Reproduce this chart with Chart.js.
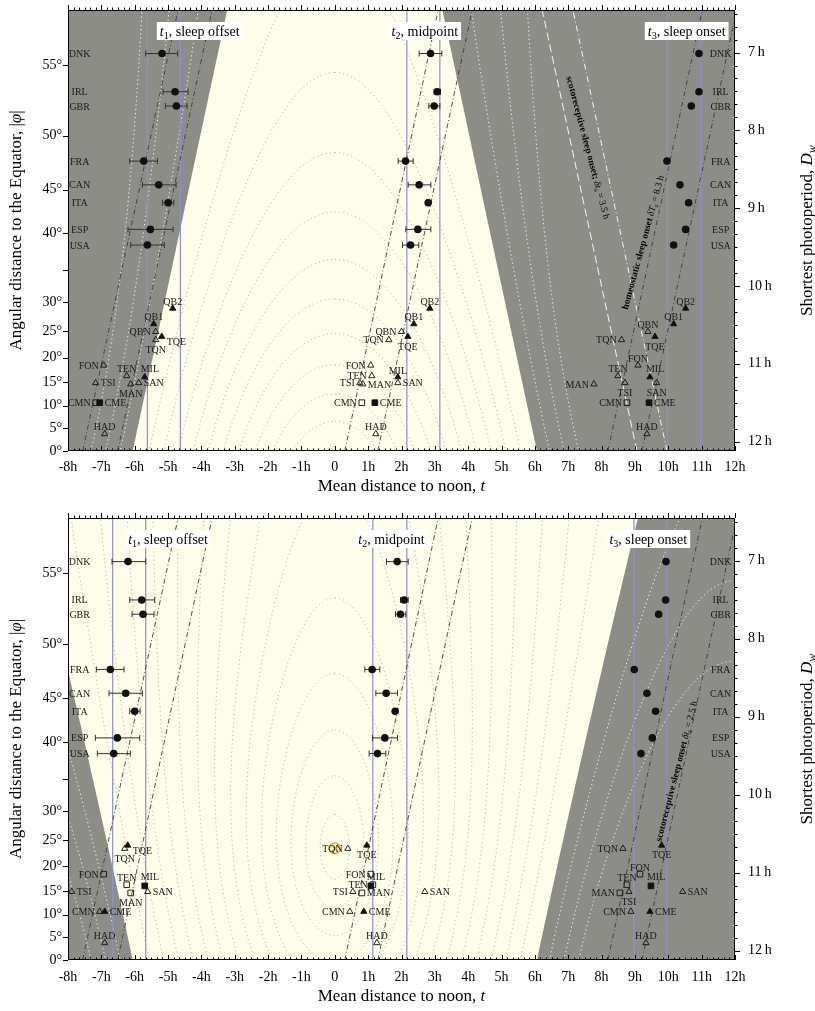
<!DOCTYPE html>
<html>
<head>
<meta charset="utf-8">
<script src="https://cdn.jsdelivr.net/npm/chart.js@4.4.1/dist/chart.umd.min.js"></script>
<style>
  html, body { margin: 0; padding: 0; background: #fff; overflow: hidden; }
  .panel { position: absolute; left: 0; width: 815px; }
  #top { top: 0; height: 506px; }
  #bottom { top: 505px; height: 506px; }
</style>
</head>
<body>
<div class="panel" id="top"><canvas id="winter" width="815" height="506"></canvas></div>
<div class="panel" id="bottom"><canvas id="summer" width="815" height="506"></canvas></div>
<script>
// Sleep timing against solar time: winter time (top) and summer time (bottom)

const DECL = 23.44;     // solstice declination, deg
const H0 = -0.833;      // sun altitude at sunrise / sunset, deg
const LAT_MAX = 58;     // top of the plot, deg
const RAD = Math.PI / 180;

const X_TICKS = [-8, -7, -6, -5, -4, -3, -2, -1, 0, 1, 2, 3, 4, 5, 6, 7, 8, 9, 10, 11, 12];
const DEG_TICKS = [0, 5, 10, 15, 20, 25, 30, 35, 40, 45, 50, 55];
const DEG_LABELS = [0, 5, 10, 15, 20, 25, 30, 40, 45, 50, 55];
const HOUR_TICKS = [7, 8, 9, 10, 11, 12];
const ALT_LEVELS = [6, 12, 18, 24, 30, 36, 42, 48, 54, 60, 66, 72, 78, 84];
const TWILIGHT_LEVELS = [-6, -12, -18];

// countries (circles)
const COUNTRIES = ['DNK', 'IRL', 'GBR', 'FRA', 'CAN', 'ITA', 'ESP', 'USA'];
const COUNTRY_LAT = [55.7, 53.3, 52.3, 47.8, 45.5, 43.6, 40.5, 38.5];

const W_T1    = [-5.18, -4.79, -4.75, -5.73, -5.28, -5.00, -5.53, -5.62];
const W_T1_LO = [-5.67, -5.15, -5.08, -6.15, -5.77, -5.17, -6.20, -6.12];
const W_T1_HI = [-4.71, -4.40, -4.43, -5.32, -4.76, -4.83, -4.85, -5.11];
const W_T2    = [2.87, 3.07, 2.98, 2.12, 2.53, 2.80, 2.49, 2.27];
const W_T2_LO = [2.53, 2.98, 2.82, 1.90, 2.20, 2.75, 2.13, 2.03];
const W_T2_HI = [3.21, 3.17, 3.15, 2.35, 2.88, 2.85, 2.88, 2.52];
const W_T3    = [10.92, 10.92, 10.69, 9.96, 10.35, 10.61, 10.52, 10.16];

const S_T1    = [-6.20, -5.79, -5.75, -6.73, -6.27, -6.00, -6.52, -6.63];
const S_T1_LO = [-6.68, -6.15, -6.08, -7.15, -6.77, -6.15, -7.18, -7.12];
const S_T1_HI = [-5.67, -5.40, -5.42, -6.32, -5.77, -5.84, -5.85, -6.13];
const S_T2    = [1.87, 2.08, 1.97, 1.12, 1.54, 1.81, 1.50, 1.28];
const S_T2_LO = [1.55, 1.97, 1.82, 0.90, 1.23, 1.76, 1.13, 1.03];
const S_T2_HI = [2.20, 2.20, 2.13, 1.35, 1.88, 1.86, 1.88, 1.53];
const S_T3    = [9.93, 9.92, 9.71, 8.98, 9.36, 9.62, 9.52, 9.18];

// regions (triangles / squares)
const REGIONS = ['QB2', 'QB1', 'QBN', 'TQE', 'TQN', 'FON', 'TEN', 'MIL', 'TSI', 'MAN', 'SAN', 'CMN', 'CME', 'HAD'];
const REGION_LAT = [29.0, 26.3, 24.9, 24.0, 23.4, 18.45, 16.3, 16.06, 14.86, 14.6, 14.86, 10.65, 10.65, 3.8];

const W_R1 = [-4.86, -5.43, -5.37, -5.19, -5.37, -6.93, -6.24, -5.70, -7.17, -6.12, -5.88, -7.17, -7.05, -6.90];
const W_R2 = [2.85, 2.37, 2.00, 2.19, 1.62, 1.08, 1.11, 1.89, 0.75, 0.84, 1.89, 0.81, 1.20, 1.23];
const W_R3 = [10.52, 10.16, 9.39, 9.60, 8.60, 9.09, 8.49, 9.45, 8.70, 7.77, 9.65, 8.76, 9.42, 9.36];

const S_R1 = [null, null, null, -6.21, -6.30, -6.93, -6.24, -5.70, -7.89, -6.12, -5.61, -7.05, -6.90, -6.90];
const S_R2 = [null, null, null, 0.96, 0.39, 1.08, 1.14, 1.08, 0.54, 0.81, 2.70, 0.45, 0.87, 1.26];
const S_R3 = [null, null, null, 9.80, 8.64, 9.15, 8.76, 9.48, 8.82, 8.55, 10.43, 8.88, 9.45, 9.33];

// vertical reference lines (t)
const W_VLINES = [-5.62, -4.63, 2.16, 3.15, 9.97, 10.97];
const S_VLINES = [-6.66, -5.67, 1.14, 2.16, 8.97, 9.96];

// dash-dot fit lines: t at 0 deg and t at the top edge
const FIT_T0   = [-7.56, -6.51, 0.30, 1.29, 8.19, 9.21];
const FIT_TTOP = [-4.70, -3.68, 3.10, 4.12, 11.02, 12.05];
// scotoreceptive lines (winter panel only)
const SCOTO_T0   = [9.06, 9.96];
const SCOTO_TTOP = [6.22, 7.14];

const SUBSOLAR = { t: 0, lat: DECL };

// ---- layout / styles (not data) ----
const SERIF = '"Liberation Serif", "DejaVu Serif", serif';
const NIGHT = '#8d8d88';
const DAY = '#fdfde9';
const VLINE = '#8e8ed2';
const INK = '#111';

const W_SHAPE  = ['triangle', 'triangle', 'triangle', 'triangle', 'triangle', 'triangle', 'triangle', 'triangle', 'triangle', 'triangle', 'triangle', 'rect', 'rect', 'triangle'];
const S_SHAPE  = ['triangle', 'triangle', 'triangle', 'triangle', 'triangle', 'rect', 'rect', 'rect', 'triangle', 'rect', 'triangle', 'triangle', 'triangle', 'triangle'];
const FILLED   = [1, 1, 0, 1, 0, 0, 0, 1, 0, 0, 0, 0, 1, 0];

const W_LBL = [
  ['a', 'a', 'l', 'br', 'b', 'l', 'a', 'ar', 'r', 'b', 'r', 'l', 'r', 'a'],
  ['a', 'a', 'l', 'b', 'l', 'l', 'l', 'a', 'l', 'r', 'r', 'l', 'r', 'a'],
  ['a', 'a', 'a', 'b', 'l', 'a', 'a', 'ar', 'b', 'l', 'b', 'l', 'r', 'a'],
];
const S_LBL = [
  ['a', 'a', 'l', 'br', 'b', 'l', 'a', 'ar', 'r', 'b', 'r', 'l', 'r', 'a'],
  ['a', 'a', 'l', 'b', 'l', 'l', 'l', 'ar', 'l', 'r', 'r', 'l', 'r', 'a'],
  ['a', 'a', 'a', 'b', 'l', 'a', 'a', 'ar', 'b', 'l', 'r', 'l', 'r', 'a'],
];
const LABEL_OFFSETS = {
  a:  [0, -3.5, 'center'],
  b:  [0, 13, 'center'],
  l:  [-5, 3.5, 'right'],
  r:  [5, 3.5, 'left'],
  ar: [-4, -5.5, 'left'],
  br: [5, 8.5, 'left'],
};
const COUNTRY_LABEL_T = [-7.65, 11.57];

function halfDay(lat, decl) {
  const c = (Math.sin(H0 * RAD) - Math.sin(lat * RAD) * Math.sin(decl * RAD)) /
            (Math.cos(lat * RAD) * Math.cos(decl * RAD));
  return Math.acos(Math.max(-1, Math.min(1, c))) / RAD / 15;
}
// the vertical axis is linear in the shortest photoperiod
function shortestDay(lat) { return 2 * halfDay(lat, -DECL); }

const Y_MIN = shortestDay(LAT_MAX);
const Y_MAX = shortestDay(0);

const PANELS = {
  winter: {
    decl: -DECL, padTop: 10, xAxisH: 55, xLabelPad: 8, xTitleY: 485,
    groups: [[W_T1, W_T1_LO, W_T1_HI], [W_T2, W_T2_LO, W_T2_HI], [W_T3, null, null]],
    regions: [W_R1, W_R2, W_R3], shape: W_SHAPE, lbl: W_LBL,
    vlines: W_VLINES, scoto: true, sun: false,
    boxes: [[-4.05, '1', ', sleep offset'], [2.7, '2', ', midpoint'], [10.55, '3', ', sleep onset']],
    notes: [
      { t: 7.59, d: 8.22, angle: 75.2, runs: [{ s: 'scotoreceptive sleep onset; ', f: 'bold' }, { s: 'δt', f: 'italic' }, { s: 's', f: 'italic', sub: true }, { s: ' = 3.5 h' }] },
      { t: 9.24, d: 9.44, angle: -74.8, runs: [{ s: 'homeostatic sleep onset ', f: 'bold' }, { s: 'δT', f: 'italic' }, { s: 's', f: 'italic', sub: true }, { s: ' = 8.3 h' }] },
    ],
  },
  summer: {
    decl: DECL, padTop: 13, xAxisH: 51, xLabelPad: 9, xTitleY: 490,
    groups: [[S_T1, S_T1_LO, S_T1_HI], [S_T2, S_T2_LO, S_T2_HI], [S_T3, null, null]],
    regions: [S_R1, S_R2, S_R3], shape: S_SHAPE, lbl: S_LBL,
    vlines: S_VLINES, scoto: false, sun: true,
    boxes: [[-5.0, '1', ', sleep offset'], [1.7, '2', ', midpoint'], [9.4, '3', ', sleep onset']],
    notes: [
      { t: 10.24, d: 9.70, angle: -75.6, runs: [{ s: 'scotoreceptive sleep onset ', f: 'bold' }, { s: 'δt', f: 'italic' }, { s: 's', f: 'italic', sub: true }, { s: ' = 2.5 h' }] },
    ],
  },
};

function runFont(r, size) {
  return `${r.f || ''} ${r.sub ? size * 0.72 : size}px ${SERIF}`.trim();
}
function runsWidth(ctx, runs, size) {
  let w = 0;
  for (const r of runs) { ctx.font = runFont(r, size); w += ctx.measureText(r.s).width; }
  return w;
}
function drawRuns(ctx, runs, x, y, size) {
  for (const r of runs) {
    ctx.font = runFont(r, size);
    ctx.fillText(r.s, x, r.sub ? y + size * 0.22 : y);
    x += ctx.measureText(r.s).width;
  }
}

function contour(ctx, xs, ys, decl, alt) {
  const d = decl * RAD, psi = (90 - alt) * RAD;
  ctx.beginPath();
  let prev = null;
  for (let k = 0; k <= 1440; k++) {
    const th = (k / 4) * RAD;
    const sphi = Math.sin(d) * Math.cos(psi) + Math.cos(d) * Math.sin(psi) * Math.cos(th);
    const H = Math.atan2(Math.sin(th) * Math.sin(psi) * Math.cos(d), Math.cos(psi) - Math.sin(d) * sphi);
    const t = H / RAD / 15;
    const px = xs.getPixelForValue(t);
    const py = ys.getPixelForValue(shortestDay(Math.asin(sphi) / RAD));
    if (prev === null || Math.abs(t - prev) > 6) ctx.moveTo(px, py); else ctx.lineTo(px, py);
    prev = t;
  }
  ctx.stroke();
}

const solarBackground = {
  id: 'solarBackground',
  beforeDatasetsDraw(chart) {
    const { ctx, chartArea: a, scales: { x, y } } = chart;
    const p = chart.options.plugins.panel;
    ctx.save();
    ctx.beginPath();
    ctx.rect(a.left, a.top, a.width, a.height);
    ctx.clip();
    ctx.fillStyle = DAY;
    ctx.fillRect(a.left, a.top, a.width, a.height);

    // night on both sides of the day
    ctx.fillStyle = NIGHT;
    for (const side of [-1, 1]) {
      ctx.beginPath();
      ctx.moveTo(x.getPixelForValue(side * 14), y.getPixelForValue(shortestDay(-3)));
      for (let lat = -3; lat <= LAT_MAX + 3; lat += 0.5) {
        ctx.lineTo(x.getPixelForValue(side * halfDay(lat, p.decl)), y.getPixelForValue(shortestDay(lat)));
      }
      ctx.lineTo(x.getPixelForValue(side * 14), y.getPixelForValue(shortestDay(LAT_MAX + 3)));
      ctx.closePath();
      ctx.fill();
    }

    ctx.lineWidth = 1;
    ctx.setLineDash([1.2, 3]);
    ctx.strokeStyle = 'rgba(160,160,150,0.75)';
    ALT_LEVELS.forEach(h => contour(ctx, x, y, p.decl, h));
    ctx.strokeStyle = 'rgba(255,255,255,0.95)';
    TWILIGHT_LEVELS.forEach(h => contour(ctx, x, y, p.decl, h));
    ctx.restore();
  },
  beforeDatasetDraw(chart, args) {
    const ds = chart.data.datasets[args.index];
    if (!ds.errLo) return;
    const { ctx, scales: { x } } = chart;
    ctx.save();
    ctx.strokeStyle = '#333';
    ctx.lineWidth = 1;
    args.meta.data.forEach((el, j) => {
      const x0 = x.getPixelForValue(ds.errLo[j]);
      const x1 = x.getPixelForValue(ds.errHi[j]);
      ctx.beginPath();
      ctx.moveTo(x0, el.y); ctx.lineTo(x1, el.y);
      ctx.moveTo(x0, el.y - 3); ctx.lineTo(x0, el.y + 3);
      ctx.moveTo(x1, el.y - 3); ctx.lineTo(x1, el.y + 3);
      ctx.stroke();
    });
    ctx.restore();
  },
};

const annotations = {
  id: 'annotations',
  afterDatasetsDraw(chart) {
    const { ctx, scales: { x, y } } = chart;
    const p = chart.options.plugins.panel;
    ctx.save();
    ctx.fillStyle = '#1a1a1a';
    ctx.font = `10px ${SERIF}`;
    ctx.textBaseline = 'alphabetic';

    // region labels
    chart.data.datasets.forEach((ds, i) => {
      if (!ds.names) return;
      chart.getDatasetMeta(i).data.forEach((el, j) => {
        const [dx, dy, align] = LABEL_OFFSETS[ds.labelPos[j]];
        ctx.textAlign = align;
        ctx.fillText(ds.names[j], el.x + dx, el.y + dy);
      });
    });

    // country labels along both edges
    ctx.textAlign = 'center';
    COUNTRIES.forEach((c, i) => {
      const py = y.getPixelForValue(shortestDay(COUNTRY_LAT[i])) + 3.5;
      COUNTRY_LABEL_T.forEach(t => ctx.fillText(c, x.getPixelForValue(t), py));
    });

    // rotated notes along the sleep-onset lines
    ctx.fillStyle = '#000';
    ctx.textAlign = 'left';
    p.notes.forEach(n => {
      const w = runsWidth(ctx, n.runs, 9.5);
      ctx.save();
      ctx.translate(x.getPixelForValue(n.t), y.getPixelForValue(n.d));
      ctx.rotate(n.angle * RAD);
      drawRuns(ctx, n.runs, -w / 2, 3, 9.5);
      ctx.restore();
    });
    ctx.restore();
  },
  afterDraw(chart) {
    const { ctx, chartArea: a, scales: { x, y } } = chart;
    const p = chart.options.plugins.panel;
    ctx.save();
    ctx.strokeStyle = '#000';
    ctx.lineWidth = 1;
    ctx.strokeRect(a.left + 0.5, a.top + 0.5, a.width - 1, a.height - 1);

    ctx.beginPath();
    for (let m = -48; m <= 72; m++) {
      const px = Math.round(x.getPixelForValue(m / 6)) + 0.5;
      const len = m % 6 === 0 ? 5 : 2.5;
      ctx.moveTo(px, a.top); ctx.lineTo(px, a.top - len);
      ctx.moveTo(px, a.bottom); ctx.lineTo(px, a.bottom - len);
    }
    DEG_TICKS.forEach(dg => {
      const py = Math.round(y.getPixelForValue(shortestDay(dg))) + 0.5;
      ctx.moveTo(a.left, py); ctx.lineTo(a.left - 5, py);
    });
    for (let m = Math.ceil(Y_MIN * 6); m <= Math.floor(Y_MAX * 6); m++) {
      const py = Math.round(y.getPixelForValue(m / 6)) + 0.5;
      ctx.moveTo(a.right, py); ctx.lineTo(a.right + (m % 6 === 0 ? 5 : 2.5), py);
    }
    ctx.stroke();

    // t_i boxes
    ctx.textAlign = 'left';
    ctx.textBaseline = 'alphabetic';
    p.boxes.forEach(([t, sub, rest]) => {
      const runs = [{ s: 't', f: 'italic' }, { s: sub, sub: true }, { s: rest }];
      const w = runsWidth(ctx, runs, 14);
      const cx = x.getPixelForValue(t), cy = a.top + 21;
      ctx.fillStyle = '#fff';
      ctx.fillRect(cx - w / 2 - 3, cy - 9, w + 6, 18);
      ctx.fillStyle = '#000';
      drawRuns(ctx, runs, cx - w / 2, cy + 5, 14);
    });

    // axis titles
    const cy = (a.top + a.bottom) / 2;
    const left = [{ s: 'Angular distance to the Equator, |' }, { s: 'φ', f: 'italic' }, { s: '|' }];
    const right = [{ s: 'Shortest photoperiod, ' }, { s: 'D', f: 'italic' }, { s: 'w', f: 'italic', sub: true }];
    const bottom = [{ s: 'Mean distance to noon, ' }, { s: 't', f: 'italic' }];
    ctx.fillStyle = '#000';
    [[left, 15], [right, 806]].forEach(([runs, px]) => {
      const w = runsWidth(ctx, runs, 17);
      ctx.save();
      ctx.translate(px, cy);
      ctx.rotate(-Math.PI / 2);
      drawRuns(ctx, runs, -w / 2, 6, 17);
      ctx.restore();
    });
    const wb = runsWidth(ctx, bottom, 17);
    drawRuns(ctx, bottom, (a.left + a.right) / 2 - wb / 2, p.xTitleY + 6, 17);
    ctx.restore();
  },
};

function buildDatasets(p) {
  const sets = [];
  p.groups.forEach(([ts, lo, hi]) => {
    sets.push({
      data: COUNTRIES.map((c, i) => ({ x: ts[i], y: shortestDay(COUNTRY_LAT[i]) })),
      errLo: lo, errHi: hi,
      pointStyle: 'circle', pointRadius: 3.8,
      backgroundColor: INK, borderColor: INK, borderWidth: 0, order: 0,
    });
  });
  p.regions.forEach((ts, k) => {
    const data = [], names = [], labelPos = [], style = [], radius = [], fill = [];
    REGIONS.forEach((r, i) => {
      if (ts[i] == null) return;
      data.push({ x: ts[i], y: shortestDay(REGION_LAT[i]) });
      names.push(r);
      labelPos.push(p.lbl[k][i]);
      style.push(p.shape[i]);
      radius.push(p.shape[i] === 'rect' ? 4 : 3.6);
      fill.push(FILLED[i] ? INK : 'rgba(0,0,0,0)');
    });
    sets.push({
      data, names, labelPos,
      pointStyle: style, pointRadius: radius,
      backgroundColor: fill, borderColor: INK, borderWidth: 0.9, order: 0,
    });
  });
  if (p.sun) {
    ['circle', 'crossRot'].forEach(st => sets.push({
      data: [{ x: SUBSOLAR.t, y: shortestDay(SUBSOLAR.lat) }],
      pointStyle: st, pointRadius: 5.5, borderColor: '#f5a01e',
      backgroundColor: 'rgba(0,0,0,0)', borderWidth: 1.3, order: 0,
    }));
  }
  FIT_T0.forEach((t0, i) => sets.push({
    type: 'line',
    data: [{ x: t0, y: Y_MAX }, { x: FIT_TTOP[i], y: Y_MIN }],
    borderColor: '#3c3c3c', borderWidth: 0.9, borderDash: [5, 2.5, 1, 2.5],
    pointRadius: 0, order: 2,
  }));
  if (p.scoto) {
    SCOTO_T0.forEach((t0, i) => sets.push({
      type: 'line',
      data: [{ x: t0, y: Y_MAX }, { x: SCOTO_TTOP[i], y: Y_MIN }],
      borderColor: '#f4f4f0', borderWidth: 1,
      borderDash: i === 0 ? [8, 4] : [6, 3, 1, 3],
      pointRadius: 0, order: 2,
    }));
  }
  p.vlines.forEach(v => sets.push({
    type: 'line',
    data: [{ x: v, y: Y_MIN }, { x: v, y: Y_MAX }],
    borderColor: VLINE, borderWidth: 1.2, pointRadius: 0, order: 3,
  }));
  return sets;
}

Chart.defaults.font.family = SERIF;
Chart.defaults.color = '#000';

// keep the plot frame where it is: no extra room for edge tick labels
function fixBox(s, size) {
  if (s.isHorizontal()) s.height = size; else s.width = size;
  s.paddingTop = 0; s.paddingBottom = 0; s.paddingLeft = 0; s.paddingRight = 0;
}

function makeChart(id, p) {
  const tickFont = { family: SERIF, size: 14 };
  return new Chart(document.getElementById(id), {
    type: 'scatter',
    data: { datasets: buildDatasets(p) },
    plugins: [solarBackground, annotations],
    options: {
      responsive: false,
      animation: false,
      events: [],
      layout: { padding: { top: p.padTop, left: 0, right: 0, bottom: 0 } },
      plugins: { legend: { display: false }, tooltip: { enabled: false }, panel: p },
      scales: {
        x: {
          type: 'linear', min: -8, max: 12,
          afterBuildTicks: s => { s.ticks = X_TICKS.map(v => ({ value: v })); },
          afterFit: s => fixBox(s, p.xAxisH),
          ticks: {
            font: tickFont, padding: p.xLabelPad, autoSkip: false, maxRotation: 0,
            callback: v => (v === 0 ? '0' : v + 'h'),
          },
          grid: { display: false, drawTicks: false },
          border: { display: false },
        },
        y: {
          type: 'linear', position: 'left', reverse: true, min: Y_MIN, max: Y_MAX,
          afterBuildTicks: s => { s.ticks = DEG_LABELS.map(dg => ({ value: shortestDay(dg) })); },
          afterFit: s => fixBox(s, 68),
          ticks: { font: tickFont, padding: 6, autoSkip: false, callback: (v, i) => DEG_LABELS[i] + '°' },
          grid: { display: false, drawTicks: false },
          border: { display: false },
        },
        y2: {
          type: 'linear', position: 'right', reverse: true, min: Y_MIN, max: Y_MAX,
          afterBuildTicks: s => { s.ticks = HOUR_TICKS.map(h => ({ value: h })); },
          afterFit: s => fixBox(s, 80),
          ticks: { font: tickFont, padding: 13, autoSkip: false, callback: (v, i) => HOUR_TICKS[i] + '\u2009h' },
          grid: { display: false, drawTicks: false },
          border: { display: false },
        },
      },
    },
  });
}

makeChart('winter', PANELS.winter);
makeChart('summer', PANELS.summer);
</script>
</body>
</html>
